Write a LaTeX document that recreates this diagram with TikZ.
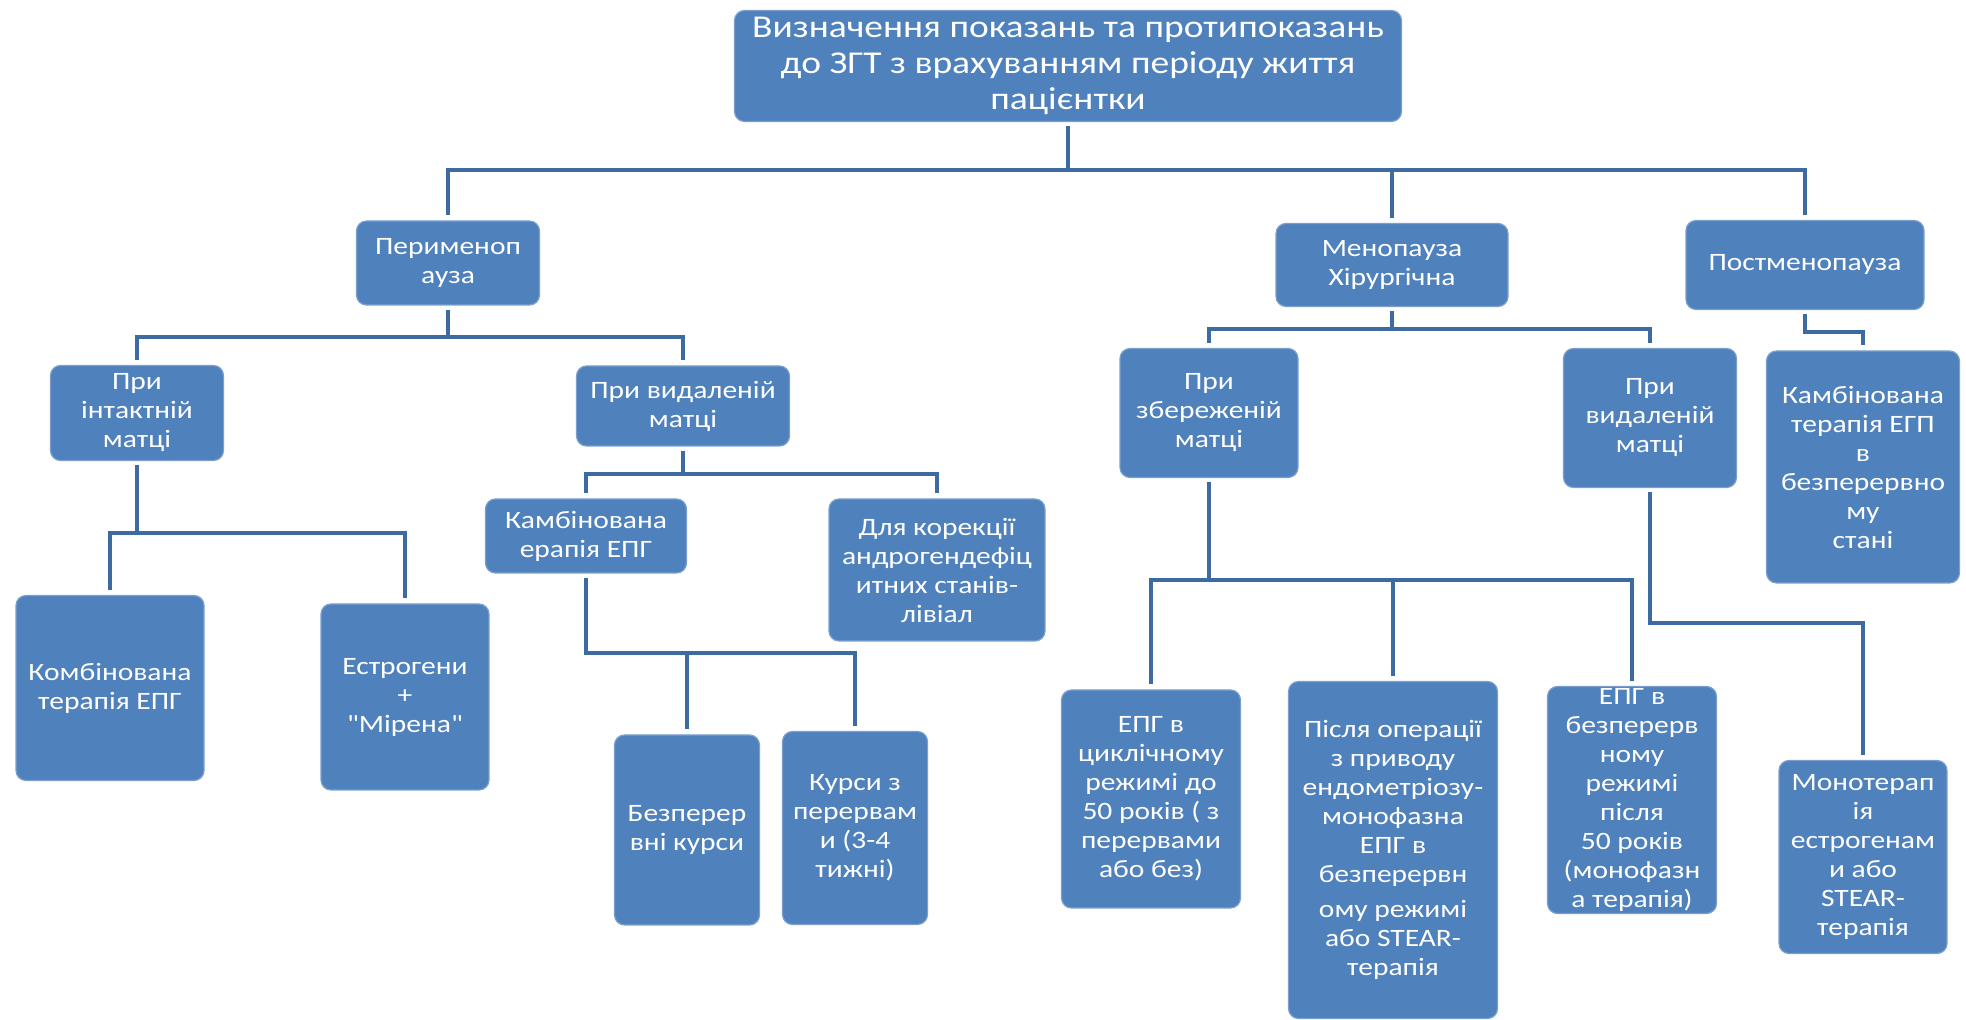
\documentclass[tikz,border=0pt]{standalone}
\usepackage{fontspec}
\setmainfont{Carlito}[Ligatures=TeXOff, FakeStretch=1.18]
\usetikzlibrary{positioning}

\definecolor{boxblue}{RGB}{79,129,189}
\definecolor{linkblue}{RGB}{62,106,162}

\tikzset{
    box/.style={fill=boxblue, draw=boxblue!75!white, line width=0.6pt, rounded corners=5pt,
        text=white, align=center, inner sep=1pt, font=\fontsize{12.5}{14.5}\selectfont},
    boxsize/.style 2 args={minimum width=#1*0.5pt, minimum height=#2*0.5pt},
    link/.style={draw=linkblue, line width=2pt, shorten <=2pt, shorten >=2.5pt}
}

\begin{document}
\begin{tikzpicture}[x=0.5pt, y=-0.5pt]
    \useasboundingbox (0,0) rectangle (1966,1020);

    \node[box, boxsize={667}{111}, font=\fontsize{15.9}{18.2}\selectfont] (root) at (1068,66)
        {Визначення показань та протипоказань\\до ЗГТ з врахуванням періоду життя\\пацієнтки};

    \node[box, boxsize={183}{84}] (peri) at (448,263) {Перименоп\\ауза};
    \node[box, boxsize={232}{83}] (meno) at (1392,265) {Менопауза\\Хірургічна};
    \node[box, boxsize={238}{89}] (post) at (1805,265) {Постменопауза};

    \node[box, boxsize={173}{95}] (intact) at (137,413) {При\\інтактній\\матці};
    \node[box, boxsize={213}{80}] (removed) at (683,406) {При видаленій\\матці};
    \node[box, boxsize={178}{129}] (kept) at (1209,413) {При\\збереженій\\матці};
    \node[box, boxsize={173}{139}] (removedm) at (1650,418) {При\\видаленій\\матці};
    \node[box, boxsize={193}{232}] (postcomb) at (1863,467)
        {Камбінована\\терапія ЕГП\\в\\безперервно\\му\\стані};

    \node[box, boxsize={188}{185}] (combi) at (110,688) {Комбінована\\терапія ЕПГ};
    \node[box, boxsize={168}{186}] (mirena) at (405,697) {Естрогени\\+\\"Мірена"};
    \node[box, boxsize={201}{74}] (combr) at (586,536) {Камбінована\\ерапія ЕПГ};
    \node[box, boxsize={216}{142}] (androg) at (937,570)
        {Для корекції\\андрогендефіц\\итних станів-\\лівіал};
    \node[box, boxsize={145}{190}] (cont) at (687,830) {Безперер\\вні курси};
    \node[box, boxsize={145}{193}] (breaks) at (855,828) {Курси з\\перервам\\и (3-4\\тижні)};

    \node[box, boxsize={179}{218}] (cyclic) at (1151,799)
        {ЕПГ в\\циклічному\\режимі до\\50 років ( з\\перервами\\або без)};
    \node[box, boxsize={209}{337}] (afterop) at (1393,850)
        {Після операції\\з приводу\\ендометріозу-\\монофазна\\ЕПГ в\\безперервн\\[3pt]ому режимі\\або STEAR-\\терапія};
    \node[box, boxsize={169}{226}] (after50) at (1632,800)
        {ЕПГ в\\безперерв\\ному\\режимі\\після\\50 років\\(монофазн\\а терапія)};
    \node[box, boxsize={168}{193}] (mono) at (1863,857)
        {Монотерап\\ія\\естрогенам\\и або\\STEAR-\\терапія};

    \draw[link] (root.south) -- ++(0,48) -| (peri.north);
    \draw[link] (root.south) -- ++(0,48) -| (meno.north);
    \draw[link] (root.south) -- ++(0,48) -| (post.north);

    \draw[link] (peri.south) -- ++(0,31) -| (intact.north);
    \draw[link] (peri.south) -- ++(0,31) -| (removed.north);
    \draw[link] (meno.south) -- ++(0,22) -| (kept.north);
    \draw[link] (meno.south) -- ++(0,22) -| (removedm.north);
    \draw[link] (post.south) -- ++(0,22) -| (postcomb.north);

    \draw[link] (intact.south) -- ++(0,72) -| (combi.north);
    \draw[link] (intact.south) -- ++(0,72) -| (mirena.north);
    \draw[link] (removed.south) -- ++(0,27) -| (combr.north);
    \draw[link] (removed.south) -- ++(0,27) -| (androg.north);
    \draw[link] (combr.south) -- ++(0,79) -| (cont.north);
    \draw[link] (combr.south) -- ++(0,79) -| (breaks.north);

    \draw[link] (kept.south) -- ++(0,102) -| (cyclic.north);
    \draw[link] (kept.south) -- ++(0,102) -| (afterop.north);
    \draw[link] (kept.south) -- ++(0,102) -| (after50.north);
    \draw[link] (removedm.south) -- ++(0,135) -| (mono.north);
\end{tikzpicture}
\end{document}
